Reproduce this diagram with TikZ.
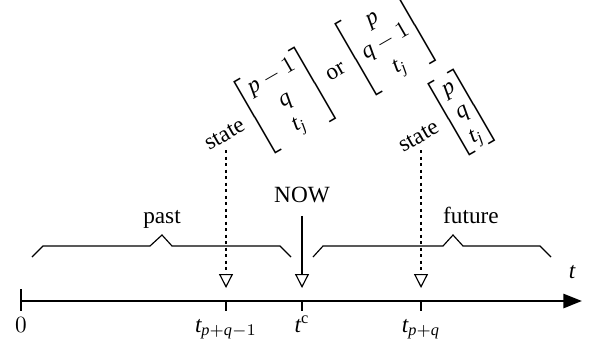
\documentclass[tikz,border=0pt]{standalone}
\usepackage{amsmath}
\usepackage{fontspec}
\setmainfont{Liberation Serif}
\newfontfamily\libser[NFSSFamily=libser]{Liberation Serif}
\DeclareSymbolFont{letters}{TU}{libser}{m}{it}
\DeclareSymbolFont{operators}{TU}{libser}{m}{n}
\usepackage{tikz}
\usetikzlibrary{arrows.meta,positioning,calc}
\newcommand{\stvec}[3]{{\renewcommand{\arraystretch}{0.97}\left[\begin{array}{@{\hspace{0.5pt}}c@{\hspace{0.5pt}}}#1\\#2\\#3\end{array}\right]}}
\tikzset{
  axisline/.style={line width=1.2pt, -{Triangle[length=8pt,width=6pt]}},
  tick/.style={line width=0.5pt},
  ticklab/.style={anchor=base, inner sep=0pt},
  marker/.style={line width=0.9pt, dash pattern=on 1.4pt off 1.4pt,
                 -{Triangle[open,length=6pt,width=6pt,line width=0.5pt]}},
  nowarrow/.style={line width=0.5pt, -{Triangle[open,length=6pt,width=6pt]}},
  brace/.style={line width=0.5pt},
  bracelab/.style={anchor=base},
  statelab/.style={anchor=base west, rotate=30, inner sep=0pt},
}

\begin{document}
\begin{tikzpicture}[x=0.43pt,y=0.43pt]
  \useasboundingbox (-21,-48) rectangle (571,301);
  % time axis
  \coordinate (k0) at (0,0);
  \coordinate (k1) at (205,0);
  \coordinate (kc) at (281,0);
  \coordinate (k2) at (400,0);
  \coordinate (kend) at (561,0);
  \draw[axisline] (k0) -- (kend);
  \node (tlab) at (551,29) {$t$};
  \draw[tick] ($(k0)+(0,12)$) -- ($(k0)+(0,-10)$);
  \draw[tick] (k1) -- ++(0,-10);
  \draw[tick] (kc) -- ++(0,-10);
  \draw[tick] (k2) -- ++(0,-10);
  \node[ticklab] (l0) at ($(k0)+(0,-31)$) {$0$};
  \node[ticklab] (l1) at ($(k1)+(0,-31)$) {$t_{p+q-1}$};
  \node[ticklab] (lc) at ($(kc)+(0,-31)$) {$t^{\mathrm{c}}$};
  \node[ticklab] (l2) at ($(k2)+(0,-31)$) {$t_{p+q}$};
  % past and future
  \draw[brace] (11,44) -- (22,55) -- (129,55) -- (141,66) -- (151,55) -- (259,55) -- (270,44);
  \draw[brace] (292,44) -- (302,55) -- (422,55) -- (432,66) -- (442,55) -- (519,55) -- (530,44);
  \node[bracelab] (past) at (141,78) {past};
  \node[bracelab] (future) at (450,78) {future};
  % markers
  \coordinate (top1) at (205,151);
  \coordinate (tip1) at (205,13);
  \coordinate (top2) at (400,151);
  \coordinate (tip2) at (400,13);
  \coordinate (nowtip) at (281,13);
  \node[anchor=base] (now) at (281,99) {NOW};
  \draw[nowarrow, shorten <=2.3pt] (now) -- (nowtip);
  \draw[marker] (top1) -- (tip1);
  \draw[marker] (top2) -- (tip2);
  \node[statelab] (state1) at ($(top1)+(-17,-1)$)
    {state $\stvec{p-1}{q}{t_j}$ or $\stvec{p}{q-1}{t_j}$};
  \node[statelab] (state2) at ($(top2)+(-18,-3)$)
    {state $\stvec{p}{q}{t_j}$};
\end{tikzpicture}
\end{document}
